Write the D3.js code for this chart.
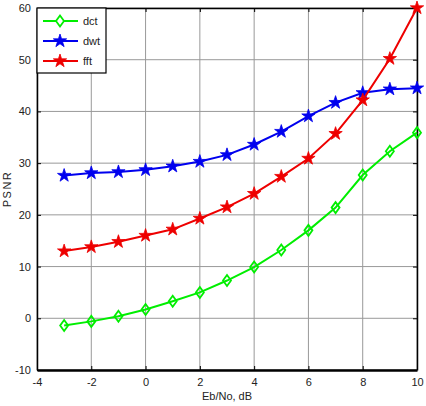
<!DOCTYPE html>
<html><head><meta charset="utf-8">
<script src="https://cdn.jsdelivr.net/npm/d3@7"></script>
<style>body{margin:0;background:#fff}svg{display:block}text{font-family:"Liberation Sans",Arial,sans-serif}</style>
</head><body>
<svg id="c" width="426" height="406"></svg>
<script>
const xs = [-3,-2,-1,0,1,2,3,4,5,6,7,8,9,10];
const dct = [-1.4,-0.6,0.4,1.7,3.3,5.0,7.3,9.9,13.2,17.0,21.4,27.7,32.3,35.9];
const dwt = [27.6,28.1,28.3,28.7,29.4,30.3,31.6,33.6,36.1,39.1,41.7,43.6,44.3,44.5];
const fft = [13.0,13.8,14.8,16.0,17.2,19.3,21.5,24.1,27.4,30.9,35.7,42.2,50.2,60.0];
const xTicks = [-4,-2,0,2,4,6,8,10];
const yTicks = [-10,0,10,20,30,40,50,60];
const seriesNames = ["dct","dwt","fft"];
const colors = {dct:"#00ee00", dwt:"#0000ee", fft:"#ee0000"};

const svg = d3.select("#c");
const L=37, R=417, T=8, B=370;
const x = d3.scaleLinear().domain([-4,10]).range([L,R]);
const y = d3.scaleLinear().domain([-10,60]).range([B,T]);
const fmt = d => String(d);

// grid
const g = svg.append("g");
g.selectAll(".gx").data(xTicks).enter().append("line")
  .attr("x1",d=>x(d)).attr("x2",d=>x(d)).attr("y1",T).attr("y2",B)
  .attr("stroke","#999").attr("stroke-width",1);
g.selectAll(".gy").data(yTicks).enter().append("line")
  .attr("y1",d=>y(d)).attr("y2",d=>y(d)).attr("x1",L).attr("x2",R)
  .attr("stroke","#999").attr("stroke-width",1);

// axes
const xa = svg.append("g").attr("transform",`translate(0,${B})`)
  .call(d3.axisBottom(x).tickValues(xTicks).tickFormat(fmt).tickSizeInner(-4).tickSizeOuter(0).tickPadding(8));
const xt = svg.append("g").attr("transform",`translate(0,${T})`)
  .call(d3.axisTop(x).tickValues(xTicks).tickSizeInner(-4).tickSizeOuter(0).tickFormat(""));
const ya = svg.append("g").attr("transform",`translate(${L},0)`)
  .call(d3.axisLeft(y).tickValues(yTicks).tickFormat(fmt).tickSizeInner(-4).tickSizeOuter(0).tickPadding(6));
const yr = svg.append("g").attr("transform",`translate(${R},0)`)
  .call(d3.axisRight(y).tickValues(yTicks).tickSizeInner(-4).tickSizeOuter(0).tickFormat(""));
[xa,xt,ya,yr].forEach(a=>{
  a.selectAll("path").attr("stroke","#000").attr("stroke-width",1.5);
  a.selectAll("line").attr("stroke","#000");
  a.selectAll("text").attr("font-size",11).attr("fill","#222").attr("font-family","Liberation Sans, Arial, sans-serif");
});
xa.select("path").attr("stroke-width",2.5);

// labels
svg.append("text").attr("x",(L+R)/2).attr("y",400).attr("text-anchor","middle")
  .attr("font-size",11).attr("fill","#222").text("Eb/No, dB");
svg.append("text").attr("transform",`translate(11,${(T+B)/2}) rotate(-90)`).attr("text-anchor","middle")
  .attr("font-size",11).attr("fill","#222").attr("letter-spacing",1.5).text("PSNR");

const star = d3.symbol().type(d3.symbolStar).size(55);
function diamond(){ return "M0,-5.5L4,0L0,5.5L-4,0Z"; }

const data = {dct, dwt, fft};
const line = d3.line().x((d,i)=>x(xs[i])).y(d=>y(d));
seriesNames.forEach(name=>{
  const c = colors[name];
  svg.append("path").datum(data[name]).attr("d",line)
    .attr("fill","none").attr("stroke",c).attr("stroke-width",2);
  const m = svg.append("g").selectAll("path").data(data[name]).enter().append("path")
    .attr("transform",(d,i)=>`translate(${x(xs[i])},${y(d)})`);
  if(name==="dct") m.attr("d",diamond()).attr("fill","none").attr("stroke",c).attr("stroke-width",1.8);
  else m.attr("d",star()).attr("fill",c).attr("stroke",c).attr("stroke-width",0.8);
});

// legend
const lg = svg.append("g");
lg.append("rect").attr("x",L).attr("y",T).attr("width",69).attr("height",65)
  .attr("fill","#fff").attr("stroke","#000").attr("stroke-width",1.2);
seriesNames.forEach((name,i)=>{
  const yy = 21 + i*20;
  const c = colors[name];
  lg.append("line").attr("x1",43).attr("x2",78).attr("y1",yy).attr("y2",yy).attr("stroke",c).attr("stroke-width",2);
  const mk = lg.append("path").attr("transform",`translate(60,${yy})`);
  if(name==="dct") mk.attr("d",diamond()).attr("fill","#fff").attr("stroke",c).attr("stroke-width",1.8);
  else mk.attr("d",star()).attr("fill",c).attr("stroke",c).attr("stroke-width",0.8);
  lg.append("text").attr("x",83).attr("y",yy+4).attr("font-size",11).attr("fill","#222").text(name);
});
</script>
</body></html>
